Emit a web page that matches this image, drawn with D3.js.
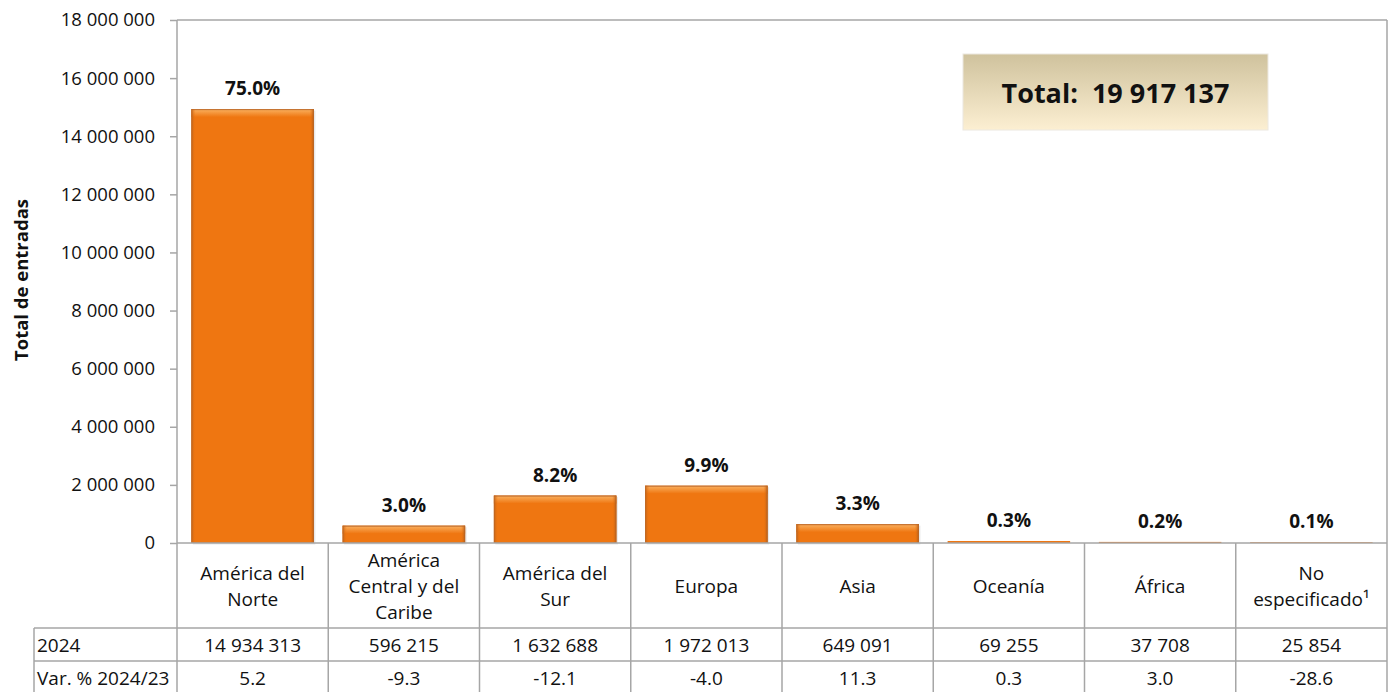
<!DOCTYPE html>
<html>
<head>
<meta charset="utf-8">
<script src="https://cdn.jsdelivr.net/npm/d3@7"></script>
<style>
  html, body { margin: 0; padding: 0; background: #fff; }
  svg { display: block; font-family: "Open Sans", "Noto Sans", sans-serif; }
</style>
</head>
<body>
<svg id="chart" width="1392" height="692"></svg>
<script>
// ---- data ----
const categories = [
  ["América del", "Norte"],
  ["América", "Central y del", "Caribe"],
  ["América del", "Sur"],
  ["Europa"],
  ["Asia"],
  ["Oceanía"],
  ["África"],
  ["No", "especificado¹"]
];
const values2024 = [14934313, 596215, 1632688, 1972013, 649091, 69255, 37708, 25854];
const sharePct = ["75.0%", "3.0%", "8.2%", "9.9%", "3.3%", "0.3%", "0.2%", "0.1%"];
const varPct = ["5.2", "-9.3", "-12.1", "-4.0", "11.3", "0.3", "3.0", "-28.6"];
const rowLabels = ["2024", "Var. % 2024/23"];
const yTicks = [0, 2000000, 4000000, 6000000, 8000000, 10000000, 12000000, 14000000, 16000000, 18000000];
const totalLabel = "Total:  19 917 137";
const yTitle = "Total de entradas";

// ---- layout ----
const L = 177, R = 1387, T = 20, B = 543;
const tableLeft = 34;
const rowY = [543, 628, 661, 694];
const fs = 19;

const svg = d3.select("#chart");
const locale = d3.formatLocale({decimal: ".", thousands: " ", grouping: [3], currency: ["", ""]});
const fmt = locale.format(",d");

const x = d3.scaleBand().domain(d3.range(categories.length)).range([L, R])
  .paddingInner(0.19).paddingOuter(0.095);
const xc = d3.scaleBand().domain(d3.range(categories.length)).range([L, R]).padding(0);
const y = d3.scaleLinear().domain([0, 18000000]).range([B, T]);

// defs
const defs = svg.append("defs");
const gSide = defs.append("linearGradient").attr("id", "side").attr("x1", 0).attr("x2", 1).attr("y1", 0).attr("y2", 0);
[[0, "#b9621c", 0.9], [0.035, "#ef7611", 0], [0.965, "#ef7611", 0], [1, "#a85a1c", 0.9]].forEach(s =>
  gSide.append("stop").attr("offset", s[0]).attr("stop-color", s[1]).attr("stop-opacity", s[2]));
const gTop = defs.append("linearGradient").attr("id", "topg").attr("x1", 0).attr("x2", 0).attr("y1", 0).attr("y2", 1);
[[0, "#c8793a", 1], [0.2, "#f8a651", 1], [1, "#ef7611", 1]].forEach(s =>
  gTop.append("stop").attr("offset", s[0]).attr("stop-color", s[1]).attr("stop-opacity", s[2]));
const gBox = defs.append("linearGradient").attr("id", "boxg").attr("x1", 0).attr("x2", 0).attr("y1", 0).attr("y2", 1);
[[0, "#cfc29d"], [1, "#fcefd2"]].forEach(s => gBox.append("stop").attr("offset", s[0]).attr("stop-color", s[1]));

const lineCol = "#a6a6a6";

// bars
const bars = svg.append("g");
values2024.forEach((v, i) => {
  const x0 = x(i), w = x.bandwidth(), y0 = y(v), h = B - y0;
  const g = bars.append("g");
  if (h > 4) {
    g.append("rect").attr("x", x0 + 1.5).attr("y", y0 + 1.5).attr("width", w).attr("height", h)
      .attr("fill", "#d9d9d9").attr("opacity", 0.6);
  }
  g.append("rect").attr("x", x0).attr("y", y0).attr("width", w).attr("height", h).attr("fill", "#ef7611");
  if (h > 4) {
    g.append("rect").attr("x", x0).attr("y", y0).attr("width", w).attr("height", Math.min(8, h)).attr("fill", "url(#topg)");
    g.append("rect").attr("x", x0).attr("y", y0).attr("width", w).attr("height", h).attr("fill", "url(#side)");
    g.append("rect").attr("x", x0 + 0.5).attr("y", y0 + 0.5).attr("width", w - 1).attr("height", Math.max(0, h - 1))
      .attr("fill", "none").attr("stroke", "#b8662a").attr("stroke-opacity", 0.55).attr("stroke-width", 1);
  }
  svg.append("text").attr("x", x0 + w / 2).attr("y", y0 - 21).attr("text-anchor", "middle")
    .attr("dominant-baseline", "central").attr("font-weight", "bold").attr("font-size", fs).attr("fill", "#111")
    .text(sharePct[i]);
});

// plot frame
svg.append("line").attr("x1", L).attr("x2", R).attr("y1", T).attr("y2", T).attr("stroke", lineCol).attr("stroke-width", 1.5);
svg.append("line").attr("x1", R).attr("x2", R).attr("y1", T).attr("y2", rowY[3]).attr("stroke", lineCol).attr("stroke-width", 1.5);

// y axis
const yAxis = d3.axisLeft(y).tickValues(yTicks).tickFormat(fmt).tickSize(7).tickPadding(15);
const ga = svg.append("g").attr("transform", `translate(${L},0)`).call(yAxis);
ga.select(".domain").remove();
ga.selectAll(".tick line").attr("stroke", lineCol).attr("stroke-width", 1.5);
ga.selectAll(".tick text").attr("font-size", 18.5).attr("fill", "#111").attr("font-family", "Open Sans, Noto Sans, sans-serif");
svg.append("line").attr("x1", L).attr("x2", L).attr("y1", T).attr("y2", rowY[3]).attr("stroke", lineCol).attr("stroke-width", 1.5);

// y title
svg.append("text").attr("transform", `translate(20,280) rotate(-90)`)
  .attr("text-anchor", "middle").attr("dominant-baseline", "central")
  .attr("font-weight", "bold").attr("font-size", 18.5).attr("fill", "#111").text(yTitle);

// table grid
[rowY[0]].forEach(yy => svg.append("line").attr("x1", L).attr("x2", R).attr("y1", yy).attr("y2", yy).attr("stroke", lineCol).attr("stroke-width", 1.5));
[rowY[1], rowY[2], rowY[3]].forEach(yy => svg.append("line").attr("x1", tableLeft).attr("x2", R).attr("y1", yy).attr("y2", yy).attr("stroke", lineCol).attr("stroke-width", 1.5));
svg.append("line").attr("x1", tableLeft).attr("x2", tableLeft).attr("y1", rowY[1]).attr("y2", rowY[3]).attr("stroke", lineCol).attr("stroke-width", 1.5);
d3.range(1, categories.length).forEach(i => {
  const xx = xc(i);
  svg.append("line").attr("x1", xx).attr("x2", xx).attr("y1", rowY[0]).attr("y2", rowY[3]).attr("stroke", lineCol).attr("stroke-width", 1.5);
});

// category labels
const lh = 26;
categories.forEach((lines, i) => {
  const cx = xc(i) + xc.bandwidth() / 2;
  const cy = (rowY[0] + rowY[1]) / 2;
  const t = svg.append("text").attr("text-anchor", "middle").attr("font-size", fs).attr("fill", "#111");
  lines.forEach((ln, k) => {
    t.append("tspan").attr("x", cx).attr("y", cy + (k - (lines.length - 1) / 2) * lh)
      .attr("dominant-baseline", "central").text(ln);
  });
});

// table rows
const rows = [values2024.map(fmt), varPct];
rows.forEach((vals, r) => {
  const cy = (rowY[r + 1] + rowY[r + 2]) / 2;
  svg.append("text").attr("x", tableLeft + 3).attr("y", cy).attr("dominant-baseline", "central")
    .attr("font-size", fs).attr("fill", "#111").text(rowLabels[r]);
  vals.forEach((v, i) => {
    svg.append("text").attr("x", xc(i) + xc.bandwidth() / 2).attr("y", cy).attr("text-anchor", "middle")
      .attr("dominant-baseline", "central").attr("font-size", fs).attr("fill", "#111").text(v);
  });
});

// total box
svg.append("rect").attr("x", 963).attr("y", 54).attr("width", 305).attr("height", 76)
  .attr("fill", "url(#boxg)").attr("stroke", "#ece8e0").attr("stroke-width", 1);
svg.append("text").attr("x", 963 + 305 / 2).attr("y", 54 + 76 / 2).attr("text-anchor", "middle")
  .attr("dominant-baseline", "central").attr("font-weight", "bold").attr("font-size", 27).attr("fill", "#111")
  .attr("xml:space", "preserve").style("white-space", "pre").text(totalLabel);
</script>
</body>
</html>
